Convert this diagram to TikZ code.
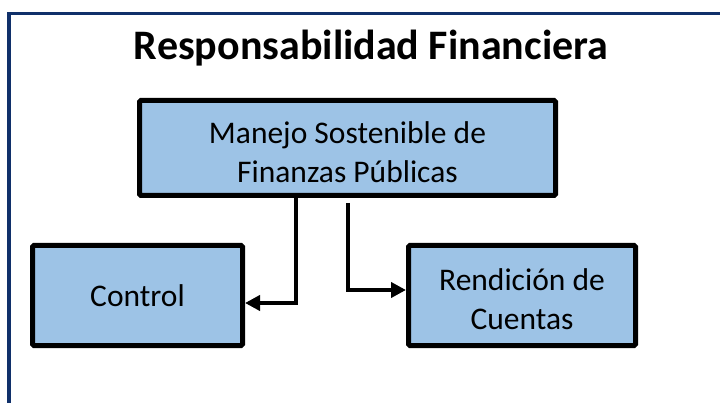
\documentclass[tikz,border=0pt]{standalone}
\usepackage{fontspec}
\setmainfont{Carlito}
\usetikzlibrary{arrows.meta}
\definecolor{frameblue}{HTML}{10306A}
\definecolor{boxblue}{HTML}{9DC3E6}
\newcommand{\lowr}{\rule{0pt}{30pt}}
\tikzset{
  stepbox/.style={draw=black, line width=5pt, fill=boxblue, rounded corners=1.5pt,
    align=center, inner sep=0pt, font=\fontsize{31.5}{39}\selectfont},
  conn/.style={line width=4pt, -{Triangle[length=15pt,width=15pt]}},
}
\begin{document}
\begin{tikzpicture}[x=1pt,y=-1pt]
\useasboundingbox (0,0) rectangle (720,403);
\begin{scope}
\clip (0,0) rectangle (720,403);
\draw[frameblue, line width=3.5pt] (9,13.5) rectangle (760,440);
\end{scope}
\node[anchor=base, font=\bfseries\fontsize{42}{48}\selectfont] (title) at (371,60) {Responsabilidad Financiera};
\node[stepbox, minimum width=416pt, minimum height=95pt] (main) at (347.5,148) {\lowr Manejo Sostenible de\\Finanzas Públicas};
\node[stepbox, minimum width=210pt, minimum height=100pt] (control) at (137.5,295.5) {Control};
\node[stepbox, minimum width=227pt, minimum height=100pt] (rend) at (522,295.5) {\lowr Rendición de\\Cuentas};
\draw[conn] ([xshift=-51.5pt]main.south) |- ([yshift=-7.5pt]control.east);
\draw[conn] ([xshift=0.5pt,yshift=-5pt]main.south) |- ([yshift=5.5pt]rend.west);
\end{tikzpicture}
\end{document}
